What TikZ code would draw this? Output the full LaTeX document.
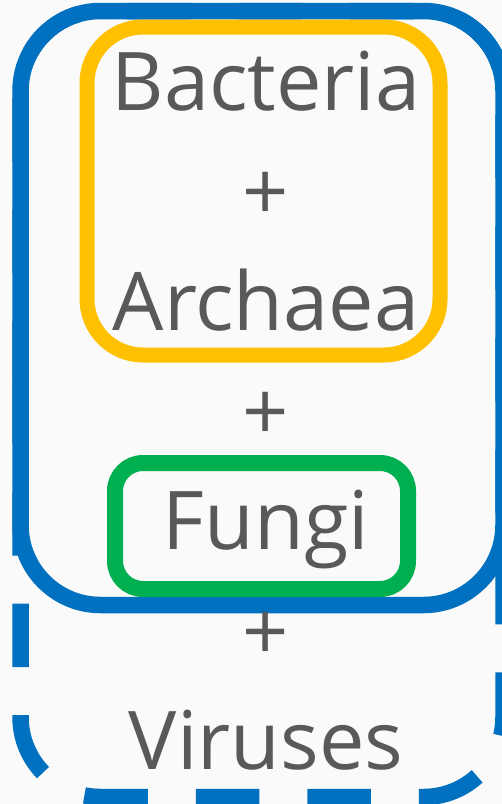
\documentclass[tikz,border=0pt]{standalone}
\usepackage{fontspec}
\setmainfont{Open Sans}
\definecolor{bgcol}{HTML}{FAFAFA}
\definecolor{txtgray}{HTML}{595959}
\definecolor{mblue}{HTML}{0070C0}
\definecolor{myellow}{HTML}{FFC000}
\definecolor{mgreen}{HTML}{00B050}
\tikzset{
  lbl/.style={text=txtgray, font=\fontsize{81}{97}\selectfont, anchor=base, inner sep=0pt},
  groupline/.style={line width=16.5pt},
}
\begin{document}
\begin{tikzpicture}[x=1pt, y=-1pt]
\useasboundingbox (0,0) rectangle (502,804);
\fill[bgcol] (0,0) rectangle (502,804);
\clip (0,0) rectangle (502,804);

% outer dashed group (everything + viruses)
\draw[groupline, mblue, rounded corners=80pt,
      dash pattern=on 63.5pt off 48pt, dash phase=111pt]
  (20.5,300) -- (20.5,797) -- (503.5,797) -- (503.5,11) -- (20.5,11) -- cycle;

% solid group (bacteria, archaea, fungi)
\draw[groupline, mblue, rounded corners=80pt]
  (20.5,11) rectangle (503.5,605);

% prokaryotes group
\draw[line width=15pt, myellow, rounded corners=56pt]
  (87,27) rectangle (440,355);

% fungi box
\draw[line width=16pt, mgreen, rounded corners=28pt]
  (115,463) rectangle (408,589);

\node[lbl] (bacteria) at (266,110) {Bacteria};
\node[lbl] (plus1)    at (266,220) {+};
\node[lbl] (archaea)  at (266,330) {Archaea};
\node[lbl] (plus2)    at (266,440) {+};
\node[lbl] (fungi)    at (266,549) {Fungi};
\node[lbl] (plus3)    at (266,660) {+};
\node[lbl] (viruses)  at (266,769) {Viruses};
\end{tikzpicture}
\end{document}
